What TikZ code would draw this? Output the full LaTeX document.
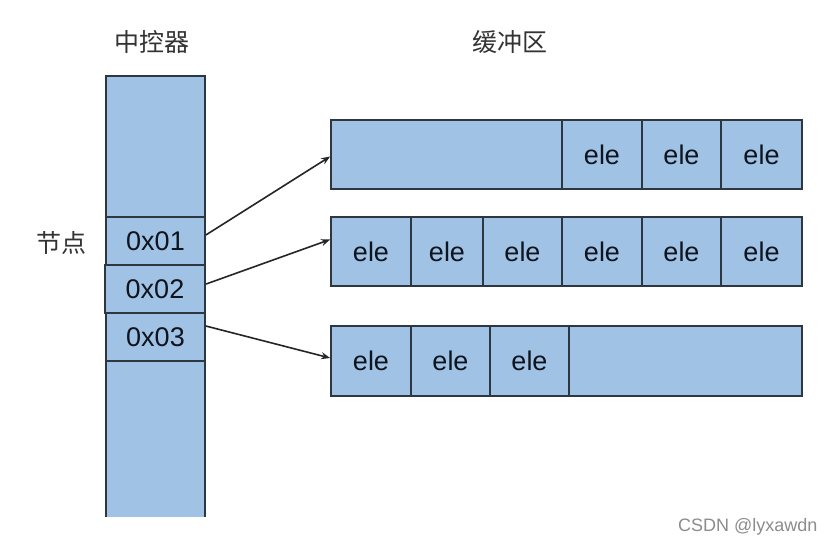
\documentclass[tikz,border=0pt]{standalone}
\usepackage{fontspec}
\setmainfont{Liberation Sans}
\newfontfamily\cjk{Noto Sans CJK SC}
\usetikzlibrary{arrows.meta}
\definecolor{cellfill}{RGB}{160,195,229}
\definecolor{celledge}{RGB}{45,55,65}
\definecolor{txt}{RGB}{15,20,30}
\tikzset{
  cellbox/.style={draw=celledge, fill=cellfill, line width=1.7pt, inner sep=0pt, font=\fontsize{27}{30}\selectfont, text=txt},
  thickbox/.style={cellbox, line width=2.3pt},
  title/.style={font=\cjk\fontsize{25}{28}\selectfont, text=black!80},
  link/.style={draw=black!85, line width=1.6pt, -{Stealth[length=9pt,width=7pt]}},
}
\begin{document}
\begin{tikzpicture}[x=1pt,y=-1pt]
\useasboundingbox (0,0) rectangle (835,547);
\fill[white] (0,0) rectangle (835,547);
% controller column
\node[fill=cellfill, minimum width=99pt, minimum height=441pt, inner sep=0pt] (ctrl) at (155.5,296.5) {};
\draw[celledge, line width=1.7pt] (ctrl.south west) -- (ctrl.north west) -- (ctrl.north east) -- (ctrl.south east);
\node[cellbox, minimum width=99pt, minimum height=48pt] (c1) at (155.5,241) {0x01};
\node[cellbox, minimum width=99pt, minimum height=48pt] (c3) at (155.5,337) {0x03};
\node[thickbox, minimum width=100pt, minimum height=48pt] (c2) at (155,289) {0x02};
% titles
\node[title] (t1) at (152,42) {中控器};
\node[title] (t2) at (510,42) {缓冲区};
\node[title] (t3) at (61,243) {节点};
% row 1
\node[cellbox, minimum width=231pt, minimum height=69pt] (b1e) at (446.5,154.5) {};
\node[cellbox, minimum width=79pt, minimum height=69pt] (b1b) at (681.5,154.5) {ele};
\node[cellbox, minimum width=81pt, minimum height=69pt] (b1c) at (761.5,154.5) {ele};
\node[thickbox, minimum width=80pt, minimum height=69pt] (b1a) at (602,154.5) {ele};
% row 2
\node[cellbox, minimum width=80pt, minimum height=69pt] (b2a) at (371,251.5) {ele};
\node[cellbox, minimum width=72pt, minimum height=69pt] (b2b) at (447,251.5) {ele};
\node[cellbox, minimum width=79pt, minimum height=69pt] (b2c) at (522.5,251.5) {ele};
\node[cellbox, minimum width=80pt, minimum height=69pt] (b2d) at (602,251.5) {ele};
\node[cellbox, minimum width=79pt, minimum height=69pt] (b2e) at (681.5,251.5) {ele};
\node[cellbox, minimum width=81pt, minimum height=69pt] (b2f) at (761.5,251.5) {ele};
% row 3
\node[cellbox, minimum width=80pt, minimum height=70pt] (b3a) at (371,361) {ele};
\node[cellbox, minimum width=79pt, minimum height=70pt] (b3b) at (450.5,361) {ele};
\node[cellbox, minimum width=79pt, minimum height=70pt] (b3c) at (529.5,361) {ele};
\node[cellbox, minimum width=233pt, minimum height=70pt] (b3e) at (685.5,361) {};
% links
\draw[link] ([yshift=6pt]c1.east) -- ([yshift=-2pt]b1e.west);
\draw[link] ([yshift=5pt]c2.east) -- ([yshift=12pt]b2a.west);
\draw[link] ([yshift=11pt]c3.east) -- ([yshift=3pt]b3a.west);
% watermark
\node[font=\fontsize{18}{20}\selectfont, text=black!45, anchor=east] (wm) at (821,527) {CSDN @lyxawdn};
\end{tikzpicture}
\end{document}
